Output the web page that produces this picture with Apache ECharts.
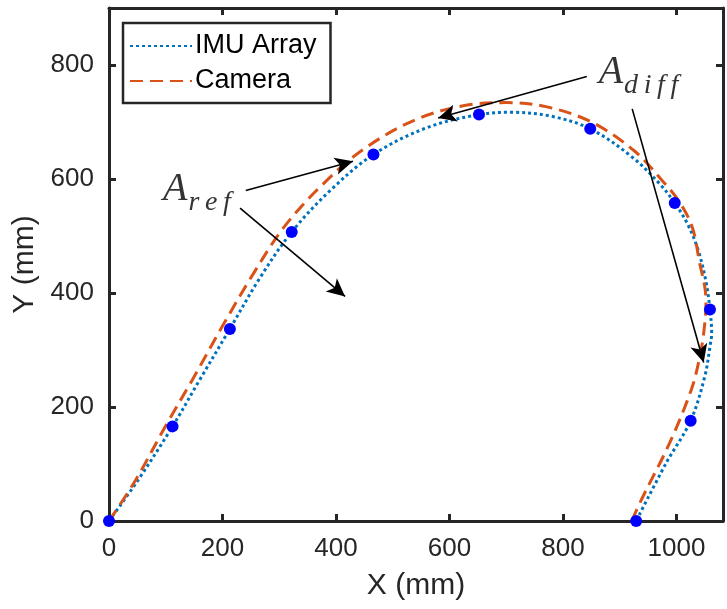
<!DOCTYPE html>
<html><head><meta charset="utf-8">
<script src="https://cdn.jsdelivr.net/npm/echarts@6/dist/echarts.min.js"></script>
<style>html,body{margin:0;padding:0;background:#fff}#c{width:727px;height:609px}</style>
</head><body><div id="c"></div>
<script>
// IMU Array trajectory (mm)
const imuX = [0, 50, 112, 160, 213, 265, 322, 390, 466, 560, 652, 710, 780, 848, 920, 970, 997, 1020, 1038, 1052, 1059, 1062, 1059, 1050, 1025, 982, 929];
const imuY = [0, 70, 166, 248, 337, 425, 507, 580, 643, 690, 713, 717, 710, 688, 640, 592, 558, 520, 476, 420, 371, 330, 306, 254, 176, 102, 0];
// Camera trajectory (mm)
const camX = [0, 47, 101, 147, 200, 252, 308, 376, 451, 545, 640, 700, 770, 850, 925, 975, 1005, 1028, 1041, 1050, 1052, 1048, 1040, 1026, 988, 941, 921];
const camY = [0, 72, 169, 248, 342, 430, 515, 590, 654, 706, 731, 734, 727, 700, 650, 597, 560, 515, 452, 410, 383, 330, 283, 230, 137, 43, 0];
// Marker points
const markerX = [0, 112, 213, 322, 466, 652, 848, 997, 1059, 1025, 929];
const markerY = [0, 166, 337, 507, 643, 713, 688, 558, 371, 176, 0];
// Axis settings
const xMin = 0, xMax = 1082, xStep = 200;
const yMin = 0, yMax = 900, yStep = 200;
// Annotation text anchors and arrows (data coords)
const annotLabels = ['ref', 'diff'];
const annotX = [155, 933];
const annotY = [569, 774];
const arrowFrom = [[241, 580], [231, 549], [842, 780], [922, 723]];
const arrowTo = [[430, 631], [416, 394], [580, 707], [1048, 278]];

const zip = (a, b) => a.map((v, i) => [v, b[i]]);
const FONT = 'Liberation Sans';
const axisCol = '#262626';

const baseAxis = (min, max, step, pos, showLabel) => ({
  type: 'value', min, max, interval: step, position: pos,
  splitLine: { show: false },
  axisLine: { show: true, onZero: false, lineStyle: { color: axisCol, width: 3 } },
  axisTick: { show: true, inside: true, length: 7, lineStyle: { color: axisCol, width: 3 } },
  axisLabel: {
    show: showLabel, color: axisCol, fontFamily: FONT, fontSize: 26, margin: 15,
    formatter: v => (v % step === 0 ? String(v) : '')
  }
});

const xBottom = Object.assign(baseAxis(xMin, xMax, xStep, 'bottom', true), {
  name: 'X (mm)', nameLocation: 'middle', nameGap: 50,
  nameTextStyle: { color: axisCol, fontFamily: FONT, fontSize: 30 }
});
const xTop = baseAxis(xMin, xMax, xStep, 'top', false);
const yLeft = Object.assign(baseAxis(yMin, yMax, yStep, 'left', true), {
  name: 'Y (mm)', nameLocation: 'middle', nameGap: 63,
  nameTextStyle: { color: axisCol, fontFamily: FONT, fontSize: 30 }
});
const yRight = baseAxis(yMin, yMax, yStep, 'right', false);

const chart = echarts.init(document.getElementById('c'), null, { renderer: 'canvas' });
chart.setOption({
  animation: false,
  backgroundColor: '#ffffff',
  grid: { left: 109, right: 4, top: 8, bottom: 88, containLabel: false },
  xAxis: [xBottom, xTop],
  yAxis: [yLeft, yRight],
  legend: {
    left: 123, top: 23, orient: 'vertical',
    data: ['IMU Array', 'Camera'],
    backgroundColor: '#ffffff', borderColor: axisCol, borderWidth: 2.5, borderRadius: 0,
    padding: [8, 14, 7, 6], itemGap: 5, itemWidth: 62, itemHeight: 14,
    itemStyle: { opacity: 0 },
    textStyle: { color: '#000', fontFamily: FONT, fontSize: 27, lineHeight: 30, padding: [0, 0, 0, -2] },
    selectedMode: false
  },
  series: [
    {
      name: 'IMU Array', type: 'line', data: zip(imuX, imuY), smooth: 0.35,
      showSymbol: false, symbol: 'none',
      lineStyle: { color: '#0072BD', width: 3, type: [3, 3], cap: 'butt' },
      itemStyle: { color: '#0072BD' }, z: 2
    },
    {
      name: 'Camera', type: 'line', data: zip(camX, camY), smooth: 0.35,
      showSymbol: false, symbol: 'none',
      lineStyle: { color: '#D95319', width: 3, type: [13, 7], cap: 'butt' },
      itemStyle: { color: '#D95319' }, z: 3
    },
    {
      name: 'markers', type: 'scatter', data: zip(markerX, markerY),
      symbol: 'circle', symbolSize: 12, itemStyle: { color: '#0000FF', opacity: 1 }, z: 4
    },
    {
      name: 'annotations', type: 'scatter', data: zip(annotX, annotY),
      symbolSize: 0, z: 5, silent: true,
      label: {
        show: true, position: 'inside',
        formatter: p => '{a|A}{s|' + annotLabels[p.dataIndex].split('').join('\u2009') + '}',
        rich: {
          a: { fontFamily: 'Liberation Serif', fontStyle: 'italic', fontSize: 40, color: '#000', verticalAlign: 'bottom', lineHeight: 40, padding: [0, 1, 7, 0] },
          s: { fontFamily: 'Liberation Serif', fontStyle: 'italic', fontSize: 28, color: '#000', verticalAlign: 'bottom', lineHeight: 28 }
        }
      },
      markLine: {
        silent: true, animation: false,
        symbol: ['none', 'arrow'], symbolSize: [13, 18],
        label: { show: false },
        lineStyle: { color: '#000', width: 1.6, type: 'solid' },
        data: arrowFrom.map((f, i) => [{ coord: f }, { coord: arrowTo[i] }])
      }
    }
  ]
});
</script></body></html>
